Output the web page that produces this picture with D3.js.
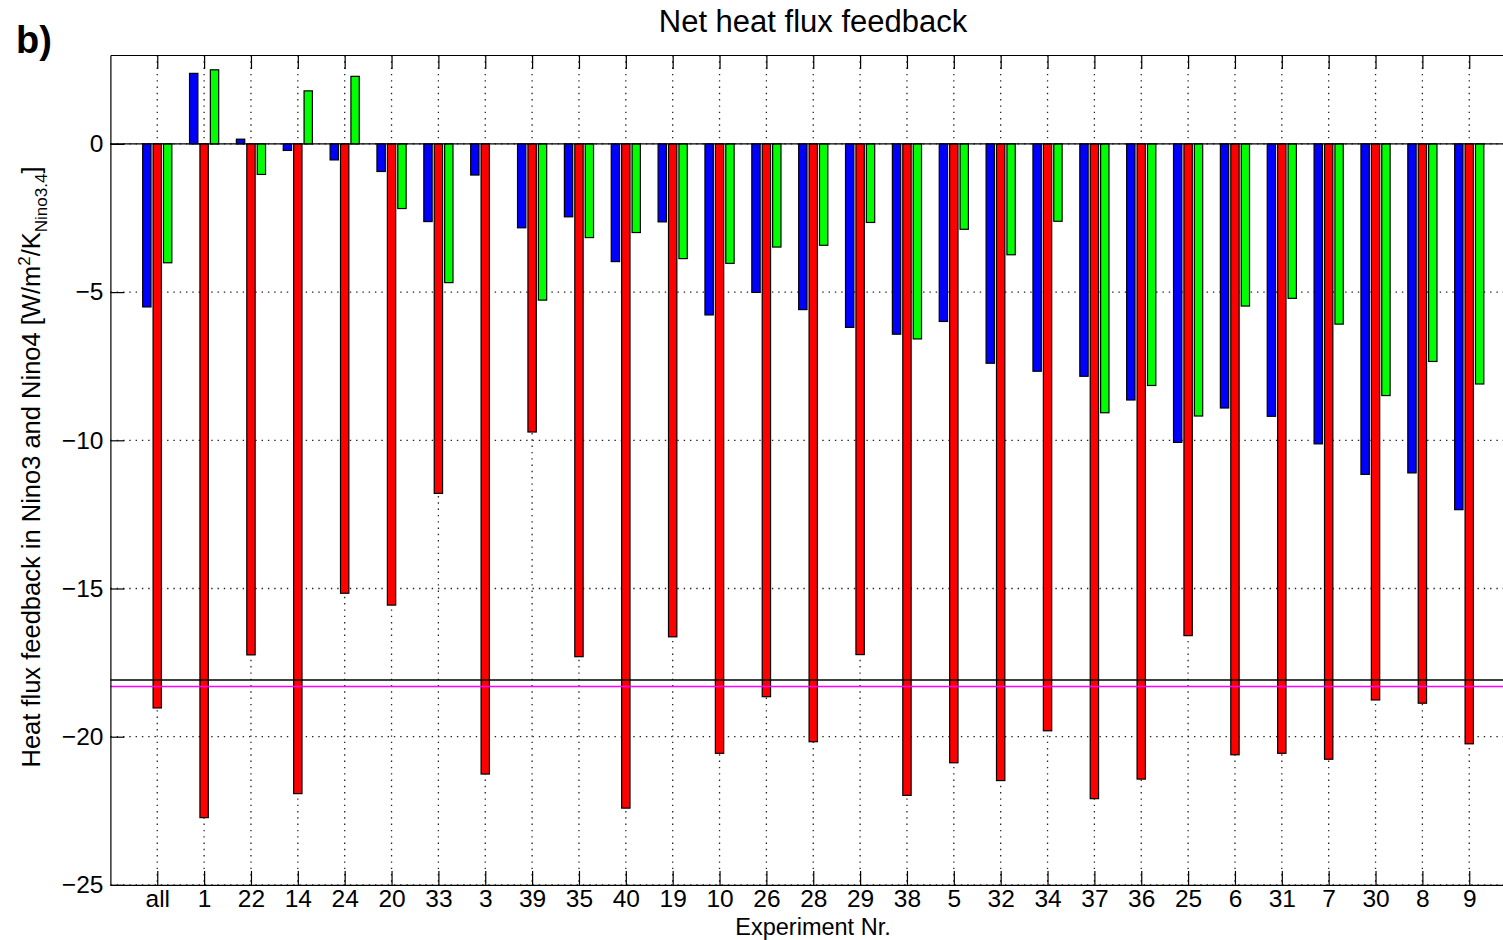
<!DOCTYPE html>
<html>
<head>
<meta charset="utf-8">
<script src="https://cdn.jsdelivr.net/npm/d3@7"></script>
<style>
  html, body { margin: 0; padding: 0; background: #fff; }
  svg { display: block; font-family: "Liberation Sans", Arial, Helvetica, sans-serif; }
</style>
</head>
<body>
<svg id="chart" width="1503" height="940"></svg>
<script>
// Experiments in plotted order
const experiments = ["all", "1", "22", "14", "24", "20", "33", "3", "39", "35", "40", "19", "10", "26",
  "28", "29", "38", "5", "32", "34", "37", "36", "25", "6", "31", "7", "30", "8", "9"];

// Net heat flux feedback per experiment [W/m^2/K]
const blueValues = [-5.50, 2.38, 0.16, -0.22, -0.54, -0.93, -2.62, -1.05, -2.83, -2.46, -3.97, -2.63,
  -5.77, -5.01, -5.59, -6.19, -6.42, -5.99, -7.40, -7.67, -7.84, -8.64, -10.07, -8.91, -9.19, -10.12,
  -11.15, -11.10, -12.34];
const redValues = [-19.03, -22.73, -17.24, -21.92, -15.16, -15.56, -11.79, -21.26, -9.72, -17.30, -22.41,
  -16.63, -20.56, -18.65, -20.17, -17.23, -21.98, -20.88, -21.48, -19.80, -22.09, -21.43, -16.59, -20.61,
  -20.56, -20.76, -18.76, -18.87, -20.24];
const greenValues = [-4.01, 2.50, -1.03, 1.79, 2.28, -2.18, -4.68, 0.0, -5.27, -3.16, -2.99, -3.87,
  -4.03, -3.48, -3.42, -2.65, -6.58, -2.88, -3.74, -2.61, -9.07, -8.15, -9.18, -5.47, -5.21, -6.08,
  -8.49, -7.34, -8.10];

// Horizontal reference levels
const referenceLevels = [
  { value: -18.09, color: "#000000" },
  { value: -18.31, color: "#ff00ff" }
];

const yTicks = [0, -5, -10, -15, -20, -25];

const series = [
  { values: blueValues, color: "#0000ff", offset: -0.2222 },
  { values: redValues, color: "#ff0000", offset: 0 },
  { values: greenValues, color: "#00ff00", offset: 0.2222 }
];
const barWidth = 0.178; // in category units

const svg = d3.select("#chart");
const plotLeft = 110.4, plotTop = 55, plotBottom = 884.9, plotRight = 1516.1;

const x = d3.scaleLinear().domain([0, experiments.length + 1]).range([plotLeft, plotRight]);
const y = d3.scaleLinear().domain([-25, 3]).range([plotBottom, plotTop]);

const catPos = (i) => i + 1;

// Dotted grid
const grid = svg.append("g").attr("stroke", "#222").attr("stroke-width", 1.3)
  .attr("stroke-dasharray", "1.4,4.9");
grid.selectAll("line.v").data(experiments).join("line").attr("class", "v")
  .attr("x1", (d, i) => x(catPos(i))).attr("x2", (d, i) => x(catPos(i)))
  .attr("y1", plotTop).attr("y2", plotBottom);
grid.selectAll("line.h").data(yTicks).join("line").attr("class", "h")
  .attr("x1", plotLeft).attr("x2", plotRight)
  .attr("y1", d => y(d)).attr("y2", d => y(d));

// Bars
series.forEach(s => {
  svg.append("g").selectAll("rect").data(s.values).join("rect")
    .attr("x", (d, i) => x(catPos(i) + s.offset - barWidth / 2))
    .attr("width", x(barWidth) - x(0))
    .attr("y", d => y(Math.max(0, d)))
    .attr("height", d => Math.abs(y(d) - y(0)))
    .attr("fill", s.color)
    .attr("stroke", "#000")
    .attr("stroke-width", 1.2);
});

// Zero baseline
svg.append("line")
  .attr("x1", plotLeft).attr("x2", plotRight)
  .attr("y1", y(0)).attr("y2", y(0))
  .attr("stroke", "#000").attr("stroke-width", 1.2);

// Reference lines
svg.append("g").selectAll("line").data(referenceLevels).join("line")
  .attr("x1", plotLeft).attr("x2", plotRight)
  .attr("y1", d => y(d.value)).attr("y2", d => y(d.value))
  .attr("stroke", d => d.color).attr("stroke-width", 1.5);

// Axes (ticks pointing inward)
const tickLen = 14;
const tickVals = experiments.map((d, i) => catPos(i));

const xAxis = d3.axisBottom(x).tickValues(tickVals)
  .tickFormat((d) => experiments[d - 1])
  .tickSizeInner(-tickLen).tickSizeOuter(0).tickPadding(5);
svg.append("g").attr("transform", `translate(0,${plotBottom})`).call(xAxis);

const xTop = d3.axisTop(x).tickValues(tickVals).tickFormat("")
  .tickSizeInner(-tickLen).tickSizeOuter(0);
svg.append("g").attr("transform", `translate(0,${plotTop})`).call(xTop);

const yAxis = d3.axisLeft(y).tickValues(yTicks)
  .tickFormat(d3.format("d"))
  .tickSizeInner(-tickLen).tickSizeOuter(0).tickPadding(7);
svg.append("g").attr("transform", `translate(${plotLeft},0)`).call(yAxis);

svg.selectAll("g").attr("font-family", null).attr("font-size", null);
svg.selectAll(".tick text").attr("font-size", 24.5).attr("fill", "#000");
svg.selectAll(".domain, .tick line").attr("stroke", "#000").attr("stroke-width", 1.2);

// Titles
svg.append("text")
  .attr("x", 813).attr("y", 32)
  .attr("text-anchor", "middle")
  .attr("font-size", 31)
  .text("Net heat flux feedback");

svg.append("text")
  .attr("x", 16).attr("y", 53)
  .attr("font-size", 38).attr("font-weight", "bold")
  .text("b)");

svg.append("text")
  .attr("x", 813).attr("y", 934.5)
  .attr("text-anchor", "middle")
  .attr("font-size", 23.5)
  .text("Experiment Nr.");

const yl = svg.append("text")
  .attr("transform", `translate(39.5,467) rotate(-90)`)
  .attr("text-anchor", "middle")
  .attr("font-size", 25.5);
yl.append("tspan").text("Heat flux feedback in Nino3 and Nino4 [W/m");
yl.append("tspan").attr("font-size", 17).attr("dy", -10).text("2");
yl.append("tspan").attr("dy", 10).text("/K");
yl.append("tspan").attr("font-size", 17).attr("dy", 7).text("Nino3.4");
yl.append("tspan").attr("dy", -7).text("]");
</script>
</body>
</html>
